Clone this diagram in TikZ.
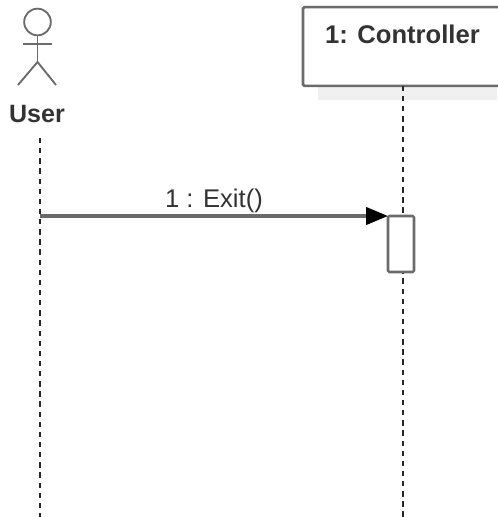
\documentclass[tikz,border=0pt]{standalone}
\usepackage{fontspec}
\setmainfont{Liberation Sans}
\usepackage{xcolor}
\usetikzlibrary{arrows.meta,positioning,calc}

\definecolor{umlline}{gray}{0.42}
\definecolor{umlshadow}{gray}{0.94}
\definecolor{umltext}{gray}{0.2}

\tikzset{
    lifeline/.style={draw=black!85,line width=1.3pt,dash pattern=on 4pt off 3.6pt},
    umlbox/.style={draw=umlline,line width=1.9pt,fill=white,rounded corners=1pt,inner sep=0pt,outer sep=0pt},
    actorline/.style={draw=umlline,line width=1.4pt},
    message/.style={draw=umlline,line width=2.3pt,-{Triangle[length=16.5pt,width=13pt,color=black]}}
}

\begin{document}
\begin{tikzpicture}[x=0.75pt,y=-0.75pt]
    \useasboundingbox (0,0) rectangle (497,517);

    % controller, shadow first
    \fill[umlshadow] (318,86) rectangle (497,100);
    \node[umlbox,minimum width=148.5pt,minimum height=59pt] (ctrl) at (402,46.5) {};
    \node[font=\bfseries\fontsize{19.2}{21}\selectfont,text=umltext] (ctrlname) at (402.5,34) {1: Controller};

    % actor
    \node[circle,actorline,minimum size=20pt,inner sep=0pt,outer sep=0pt] (head) at (37.5,22) {};
    \coordinate (hip) at (37.5,62);
    \coordinate (armL) at (23,44);
    \coordinate (armR) at (52,44);
    \coordinate (footL) at (18,85);
    \coordinate (footR) at (56,85);
    \draw[actorline] (head) -- (hip);
    \draw[actorline] (armL) -- (armR);
    \draw[actorline] (footL) -- (hip) -- (footR);
    \node[font=\bfseries\fontsize{18.8}{20}\selectfont,text=umltext] (user) at (37,114) {User};

    % lifelines
    \coordinate (userTop) at (40,138);
    \coordinate (userEnd) at (40,517);
    \coordinate (ctrlEnd) at (403,517);
    \coordinate (msgStart) at (40,216);
    \draw[lifeline] (userTop) -- (userEnd);
    \draw[lifeline] (ctrl.south -| ctrlEnd) -- (ctrlEnd);

    % activation and message
    \node[umlbox,minimum width=19.5pt,minimum height=42pt] (act) at (401,244) {};
    \draw[message] (msgStart) -- (act.north west);
    \node[font=\fontsize{19.2}{21}\selectfont,text=umltext] (exit) at (214,201) {1 : Exit()};
\end{tikzpicture}
\end{document}
